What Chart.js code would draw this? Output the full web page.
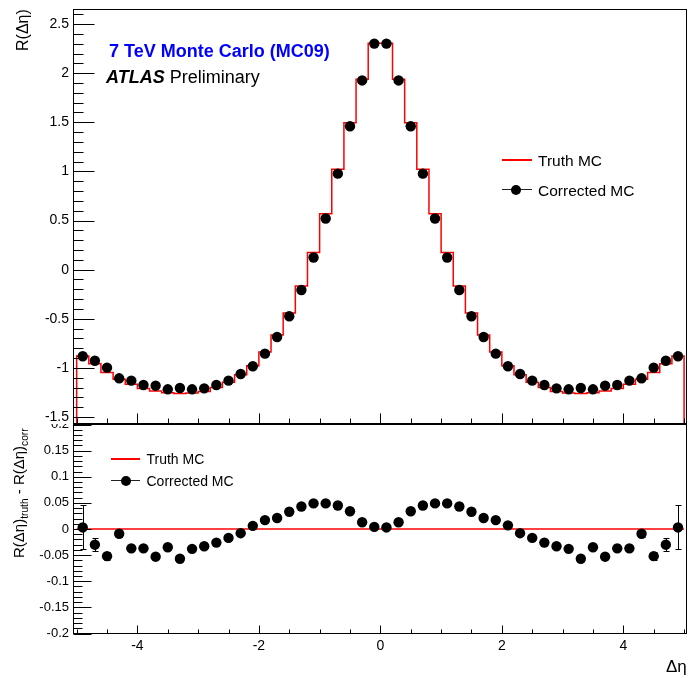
<!DOCTYPE html>
<html>
<head>
<meta charset="utf-8">
<script src="https://cdn.jsdelivr.net/npm/chart.js@4.4.0/dist/chart.umd.min.js"></script>
<style>
  body { margin: 0; background: #fff; }
  #wrap { position: relative; width: 689px; height: 678px; overflow: hidden;
          font-family: 'Liberation Sans', Arial, Helvetica, sans-serif; color: #000; }
  #wrap canvas { position: absolute; left: 0; }
  .txt { position: absolute; white-space: nowrap; line-height: 1; }
  .rot { position: absolute; white-space: nowrap; line-height: 1;
         transform-origin: 0 0; transform: rotate(-90deg); }
  .rot sub { font-size: 0.68em; vertical-align: -0.35em; line-height: 0; }
  .leg-line { position: absolute; }
  .leg-dot { position: absolute; width: 10px; height: 10px; border-radius: 50%; background: #000; }
</style>
</head>
<body>
<div id="wrap">
  <canvas id="bottomChart" width="689" height="254" style="top:424px"></canvas>
  <canvas id="topChart" width="689" height="424" style="top:0"></canvas>

  <div class="txt" style="left:109px;top:42px;font-size:18px;font-weight:bold;color:#0000ff">7 TeV Monte Carlo (MC09)</div>
  <div class="txt" style="left:106px;top:68px;font-size:18px"><b><i>ATLAS</i></b> Preliminary</div>

  <div class="leg-line" style="left:502px;top:159px;width:30px;height:2px;background:#ff0000"></div>
  <div class="txt" style="left:538px;top:152.5px;font-size:15.5px">Truth MC</div>
  <div class="leg-line" style="left:502px;top:189px;width:30px;height:1px;background:#222"></div>
  <div class="leg-dot" style="left:511px;top:184.5px"></div>
  <div class="txt" style="left:538px;top:182.5px;font-size:15.5px">Corrected MC</div>

  <div class="leg-line" style="left:111px;top:458px;width:29px;height:2px;background:#ff0000"></div>
  <div class="txt" style="left:146.5px;top:452px;font-size:14px">Truth MC</div>
  <div class="leg-line" style="left:111px;top:480px;width:29px;height:1px;background:#222"></div>
  <div class="leg-dot" style="left:120.5px;top:475.5px"></div>
  <div class="txt" style="left:146.5px;top:474px;font-size:14px">Corrected MC</div>

  <div class="rot" style="left:14.5px;top:51px;font-size:16px">R(&Delta;&eta;)</div>
  <div class="rot" style="left:11px;top:558px;font-size:15px">R(&Delta;&eta;)<sub>truth</sub> - R(&Delta;&eta;)<sub>corr</sub></div>
  <div class="txt" style="left:666px;top:658px;font-size:17px">&Delta;&eta;</div>
</div>

<script>
// Центры бинов по Δη (ширина бина 0.2)
const etaCenters = [
  -4.9, -4.7, -4.5, -4.3, -4.1, -3.9, -3.7, -3.5, -3.3, -3.1,
  -2.9, -2.7, -2.5, -2.3, -2.1, -1.9, -1.7, -1.5, -1.3, -1.1,
  -0.9, -0.7, -0.5, -0.3, -0.1, 0.1, 0.3, 0.5, 0.7, 0.9,
  1.1, 1.3, 1.5, 1.7, 1.9, 2.1, 2.3, 2.5, 2.7, 2.9,
  3.1, 3.3, 3.5, 3.7, 3.9, 4.1, 4.3, 4.5, 4.7, 4.9
];
const binWidth = 0.2;

// Truth MC (гистограмма)
const truthMC = [
  -0.878, -0.957, -1.047, -1.116, -1.166, -1.210, -1.234, -1.252, -1.260, -1.255,
  -1.241, -1.199, -1.147, -1.071, -0.978, -0.838, -0.666, -0.442, -0.166, 0.175,
  0.570, 1.022, 1.494, 1.939, 2.305, 2.305, 1.939, 1.494, 1.022, 0.570,
  0.175, -0.166, -0.442, -0.666, -0.838, -0.978, -1.071, -1.147, -1.199, -1.241,
  -1.255, -1.260, -1.252, -1.234, -1.210, -1.166, -1.116, -1.047, -0.957, -0.878
];

// Corrected MC (точки)
const correctedMC = [
  -0.882, -0.927, -0.998, -1.106, -1.130, -1.174, -1.181, -1.218, -1.205, -1.218,
  -1.208, -1.174, -1.130, -1.062, -0.983, -0.855, -0.686, -0.474, -0.207, 0.124,
  0.521, 0.977, 1.460, 1.926, 2.301, 2.301, 1.926, 1.460, 0.977, 0.521,
  0.124, -0.207, -0.474, -0.686, -0.855, -0.983, -1.062, -1.130, -1.174, -1.208,
  -1.218, -1.205, -1.218, -1.181, -1.174, -1.130, -1.106, -0.998, -0.927, -0.882
];

// Нижняя панель: R(Δη)truth - R(Δη)corr и ошибки
const diffMC = [
  0.003, -0.030, -0.052, -0.009, -0.037, -0.037, -0.053, -0.035, -0.057, -0.038,
  -0.033, -0.026, -0.017, -0.008, 0.006, 0.017, 0.021, 0.033, 0.043, 0.049,
  0.049, 0.045, 0.034, 0.013, 0.004, 0.003, 0.013, 0.034, 0.045, 0.049,
  0.049, 0.043, 0.033, 0.021, 0.017, 0.007, -0.008, -0.017, -0.026, -0.033,
  -0.038, -0.057, -0.035, -0.053, -0.037, -0.037, -0.009, -0.052, -0.030, 0.003
];
const diffErr = [
  0.042, 0.012, 0.008, 0.006, 0.005, 0.004, 0.004, 0.003, 0.003, 0.003,
  0.003, 0.003, 0.002, 0.002, 0.002, 0.002, 0.002, 0.002, 0.002, 0.002,
  0.002, 0.002, 0.002, 0.002, 0.002, 0.002, 0.002, 0.002, 0.002, 0.002,
  0.002, 0.002, 0.002, 0.002, 0.002, 0.002, 0.002, 0.002, 0.003, 0.003,
  0.003, 0.003, 0.003, 0.004, 0.004, 0.005, 0.006, 0.008, 0.012, 0.042
];
const diffRef = 0;

// Диапазоны осей и шаги делений
const X_MIN = -5.052, X_MAX = 5.04;
const TOP_Y_MIN = -1.566, TOP_Y_MAX = 2.648;
const BOT_Y_MIN = -0.2, BOT_Y_MAX = 0.2;
const xTickStep = 0.5, xLabelStep = 2;
const topYTickStep = 0.1, topYLabelStep = 0.5;
const botYTickStep = 0.01, botYLabelStep = 0.05;

const FONT = "'Liberation Sans', Arial, Helvetica, sans-serif";

function isMajor(v, step) {
    return Math.abs(v / step - Math.round(v / step)) < 1e-6;
}
function fmt(v) {
    return String(parseFloat(v.toFixed(2)));
}
// убираем автоматические отступы под подписи, чтобы рамки совпадали
function noPadding(s) {
    s.paddingTop = 0;
    s.paddingBottom = 0;
    s.paddingLeft = 0;
    s.paddingRight = 0;
}

// Рамка и внутренние деления в стиле ROOT
const rootFrame = {
    id: 'rootFrame',
    afterDraw(chart, args, opts) {
        const { ctx, chartArea: a, scales: { x, y } } = chart;
        ctx.save();
        ctx.strokeStyle = '#000';
        ctx.lineWidth = 1;
        ctx.strokeRect(a.left, a.top, a.right - a.left, a.bottom - a.top);
        ctx.beginPath();
        x.ticks.forEach(t => {
            const px = Math.round(x.getPixelForValue(t.value)) + 0.5;
            const len = isMajor(t.value, opts.xMajor) ? opts.xLong : opts.xShort;
            ctx.moveTo(px, a.bottom);
            ctx.lineTo(px, a.bottom - len);
        });
        y.ticks.forEach(t => {
            const py = Math.round(y.getPixelForValue(t.value)) + 0.5;
            const len = isMajor(t.value, opts.yMajor) ? opts.yLong : opts.yShort;
            ctx.moveTo(a.left, py);
            ctx.lineTo(a.left + len, py);
        });
        ctx.stroke();
        ctx.restore();
    }
};

// Планки ошибок для нижней панели
const errorBars = {
    id: 'errorBars',
    beforeDatasetsDraw(chart) {
        const { ctx, scales: { x, y } } = chart;
        ctx.save();
        ctx.strokeStyle = '#000';
        ctx.lineWidth = 1;
        ctx.beginPath();
        etaCenters.forEach((eta, i) => {
            const px = Math.round(x.getPixelForValue(eta)) + 0.5;
            const lo = Math.round(y.getPixelForValue(diffMC[i] - diffErr[i])) + 0.5;
            const hi = Math.round(y.getPixelForValue(diffMC[i] + diffErr[i])) + 0.5;
            ctx.moveTo(px, lo); ctx.lineTo(px, hi);
            ctx.moveTo(px - 3, lo); ctx.lineTo(px + 3, lo);
            ctx.moveTo(px - 3, hi); ctx.lineTo(px + 3, hi);
        });
        ctx.stroke();
        ctx.restore();
    }
};

// Ступенчатая линия гистограммы по краям бинов
const truthSteps = [{ x: etaCenters[0] - binWidth / 2, y: TOP_Y_MIN }];
etaCenters.forEach((c, i) => truthSteps.push({ x: c - binWidth / 2, y: truthMC[i] }));
const lastEdge = etaCenters[etaCenters.length - 1] + binWidth / 2;
truthSteps.push({ x: lastEdge, y: truthMC[truthMC.length - 1] });
truthSteps.push({ x: lastEdge, y: TOP_Y_MIN });

const pointStyle = {
    backgroundColor: '#000',
    borderColor: '#000',
    pointRadius: 5.2,
    pointHoverRadius: 5.2,
    pointBorderWidth: 0,
    showLine: false
};

function xScale(showLabels, height) {
    return {
        type: 'linear',
        min: X_MIN,
        max: X_MAX,
        grid: { display: false, drawTicks: false },
        border: { display: false },
        ticks: {
            display: showLabels,
            stepSize: xTickStep,
            autoSkip: false,
            includeBounds: false,
            maxRotation: 0,
            padding: 4,
            color: '#000',
            font: { family: FONT, size: 14 },
            callback: v => isMajor(v, xLabelStep) ? fmt(v) : ''
        },
        afterFit: s => { s.height = height; noPadding(s); }
    };
}

function yScale(min, max, step, labelStep, size) {
    return {
        type: 'linear',
        min: min,
        max: max,
        grid: { display: false, drawTicks: false },
        border: { display: false },
        ticks: {
            stepSize: step,
            autoSkip: false,
            includeBounds: false,
            padding: 4.5,
            color: '#000',
            font: { family: FONT, size: size },
            callback: v => isMajor(v, labelStep) ? fmt(v) : ''
        },
        afterFit: s => { s.width = 73.5; noPadding(s); }
    };
}

// Верхняя панель
new Chart(document.getElementById('topChart'), {
    type: 'scatter',
    data: {
        datasets: [
            Object.assign({
                label: 'Corrected MC',
                data: etaCenters.map((x, i) => ({ x: x, y: correctedMC[i] }))
            }, pointStyle),
            {
                label: 'Truth MC',
                data: truthSteps,
                showLine: true,
                stepped: 'before',
                borderColor: '#ff0000',
                borderWidth: 1.5,
                pointRadius: 0,
                pointHoverRadius: 0,
                fill: false
            }
        ]
    },
    options: {
        responsive: false,
        animation: false,
        events: [],
        layout: { autoPadding: false, padding: { top: 9.5, right: 2.5, bottom: 0, left: 0 } },
        plugins: {
            legend: { display: false },
            tooltip: { enabled: false },
            rootFrame: { xMajor: xLabelStep, xLong: 10, xShort: 5, yMajor: topYLabelStep, yLong: 21, yShort: 10 }
        },
        scales: {
            x: xScale(false, 0.5),
            y: yScale(TOP_Y_MIN, TOP_Y_MAX, topYTickStep, topYLabelStep, 14)
        }
    },
    plugins: [rootFrame]
});

// Нижняя панель
new Chart(document.getElementById('bottomChart'), {
    type: 'scatter',
    data: {
        datasets: [
            Object.assign({
                label: 'Corrected MC',
                data: etaCenters.map((x, i) => ({ x: x, y: diffMC[i] }))
            }, pointStyle),
            {
                label: 'Truth MC',
                data: [
                    { x: etaCenters[0] - binWidth / 2, y: diffRef },
                    { x: lastEdge, y: diffRef }
                ],
                showLine: true,
                borderColor: '#ff0000',
                borderWidth: 1.5,
                pointRadius: 0,
                pointHoverRadius: 0,
                fill: false
            }
        ]
    },
    options: {
        responsive: false,
        animation: false,
        events: [],
        layout: { autoPadding: false, padding: { top: 0.5, right: 2.5, bottom: 0, left: 0 } },
        plugins: {
            legend: { display: false },
            tooltip: { enabled: false },
            rootFrame: { xMajor: xLabelStep, xLong: 8, xShort: 4, yMajor: botYLabelStep, yLong: 18, yShort: 9 }
        },
        scales: {
            x: xScale(true, 44.5),
            y: yScale(BOT_Y_MIN, BOT_Y_MAX, botYTickStep, botYLabelStep, 13)
        }
    },
    plugins: [rootFrame, errorBars]
});
</script>
</body>
</html>
